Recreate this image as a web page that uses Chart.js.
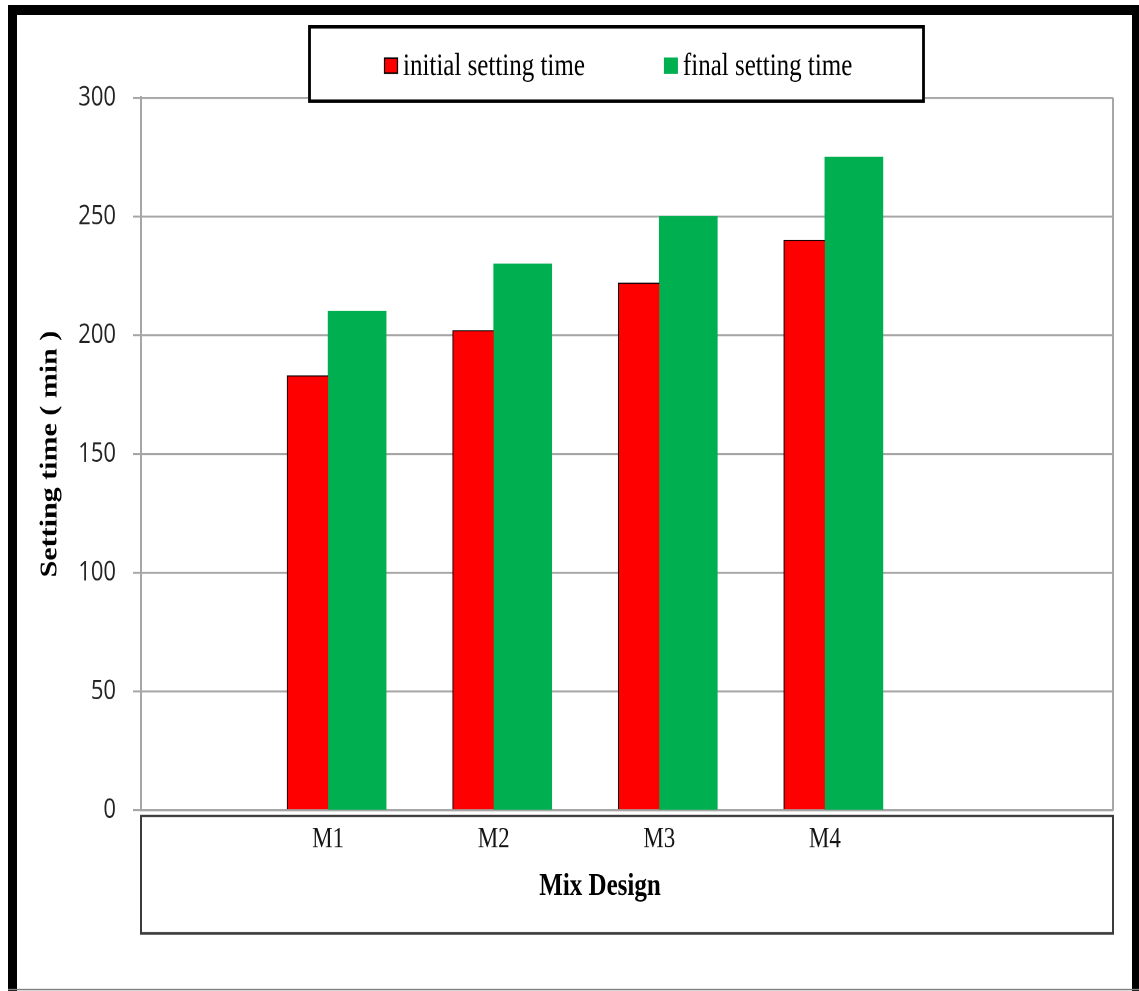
<!DOCTYPE html>
<html>
<head>
<meta charset="utf-8">
<title>Setting time by mix design</title>
<script src="https://cdn.jsdelivr.net/npm/chart.js@4.4.1/dist/chart.umd.min.js"></script>
<style>
  html, body { margin: 0; padding: 0; background: #ffffff; }
  /* the chart is laid out on a shorter canvas and shown stretched vertically */
  #chart { display: block; width: 1139px !important; height: 991px !important; }
</style>
</head>
<body>
<canvas id="chart" width="1139" height="793"></canvas>
<script>
// Mix designs on the horizontal axis
const categories = ['M1', 'M2', 'M3', 'M4'];
// Setting times in minutes
const initialSettingTime = [183, 202, 222, 240];
const finalSettingTime = [210, 230, 250, 275];
// Series names shown in the legend
const seriesNames = ['initial setting time', 'final setting time'];
// Value-axis tick labels
const yTickValues = [0, 50, 100, 150, 200, 250, 300];
// Axis titles
const xAxisTitle = 'Mix Design';
const yAxisTitle = 'Setting time ( min )';

const toPoints = values => values.map((v, i) => ({ x: i + 1, y: v }));

// Outer frame, plot border, box under the category axis and the framed legend
const decorations = {
  id: 'decorations',
  beforeDraw(chart) {
    const ctx = chart.ctx;
    ctx.save();
    ctx.fillStyle = '#ffffff';
    ctx.fillRect(0, 0, chart.width, chart.height);
    ctx.restore();
  },
  afterDraw(chart) {
    const ctx = chart.ctx;
    const area = chart.chartArea;
    ctx.save();

    // right edge of the plot area
    ctx.strokeStyle = '#a6a6a6';
    ctx.lineWidth = 2;
    ctx.beginPath();
    ctx.moveTo(area.right, area.top);
    ctx.lineTo(area.right, area.bottom);
    ctx.stroke();

    // box holding the category labels and axis title
    ctx.strokeStyle = '#3c3c3c';
    ctx.lineWidth = 2;
    ctx.strokeRect(area.left, area.bottom + 4.5, area.right - area.left, 94);

    // category axis title, sitting a little left of the box centre
    ctx.fillStyle = '#000000';
    ctx.font = 'bold 25px "Liberation Serif", "Times New Roman", serif';
    ctx.textAlign = 'center';
    ctx.textBaseline = 'alphabetic';
    ctx.fillText(xAxisTitle, 600, 716);

    // legend box
    ctx.fillStyle = '#ffffff';
    ctx.fillRect(308, 20, 617, 62);
    ctx.strokeStyle = '#000000';
    ctx.lineWidth = 2.8;
    ctx.strokeRect(309.5, 21.4, 614, 59.6);
    ctx.font = '25px "Liberation Serif", "Times New Roman", serif';
    ctx.textBaseline = 'alphabetic';
    ctx.textAlign = 'left';
    let x = 384;
    chart.data.datasets.forEach(ds => {
      ctx.fillStyle = ds.backgroundColor;
      ctx.fillRect(x, 46, 14, 13);
      if (ds.legendOutline) {
        ctx.strokeStyle = '#000000';
        ctx.lineWidth = 1.2;
        ctx.strokeRect(x + 0.5, 46.5, 13, 12);
      }
      ctx.fillStyle = '#000000';
      ctx.fillText(ds.label, x + 19, 60);
      x += 19 + ctx.measureText(ds.label).width + 79;
    });

    // outer frame
    ctx.fillStyle = '#000000';
    ctx.fillRect(8, 4, 9, chart.height - 4);
    ctx.fillRect(8, 4, chart.width - 8, 8);
    ctx.fillRect(1132, 4, 7, chart.height - 4);
    ctx.fillStyle = '#808080';
    ctx.fillRect(8, 791.3, chart.width - 8, 1.2);

    ctx.restore();
  }
};

new Chart(document.getElementById('chart'), {
  type: 'bar',
  data: {
    datasets: [
      {
        label: seriesNames[0],
        data: toPoints(initialSettingTime),
        backgroundColor: '#ff0000',
        borderColor: '#000000',
        borderWidth: { top: 1, left: 1, right: 0, bottom: 0 },
        barThickness: 41,
        legendOutline: true
      },
      {
        label: seriesNames[1],
        data: toPoints(finalSettingTime),
        backgroundColor: '#00b050',
        borderWidth: 0,
        barThickness: 58,
        legendOutline: false
      }
    ]
  },
  options: {
    responsive: false,
    animation: false,
    devicePixelRatio: 2,
    layout: { padding: { left: 0, right: 26, top: 78.2, bottom: 0 } },
    plugins: {
      legend: { display: false },
      tooltip: { enabled: false }
    },
    scales: {
      x: {
        type: 'linear',
        offset: false,
        min: -0.13,
        max: 5.74,
        afterFit: scale => { scale.height = 144.6; },
        afterBuildTicks: scale => {
          scale.ticks = categories.map((c, i) => ({ value: i + 1 }));
        },
        grid: { display: false, drawTicks: false },
        border: { display: true, color: '#a6a6a6', width: 1.6 },
        ticks: {
          autoSkip: false,
          maxRotation: 0,
          padding: 10,
          color: '#141414',
          font: { family: '"Liberation Serif", "Times New Roman", serif', size: 23 },
          callback: value => categories[value - 1] ?? ''
        },
        title: { display: false }
      },
      y: {
        min: yTickValues[0],
        max: yTickValues[yTickValues.length - 1],
        afterFit: scale => { scale.width = 141; },
        afterBuildTicks: scale => {
          scale.ticks = yTickValues.map(v => ({ value: v }));
        },
        grid: { color: '#a6a6a6', lineWidth: 1.6, tickLength: 8, drawTicks: true },
        border: { display: true, color: '#a6a6a6', width: 2 },
        ticks: {
          padding: 17,
          color: '#222222',
          font: { family: '"Open Sans", "Noto Sans", sans-serif', size: 22 }
        },
        title: {
          display: true,
          text: yAxisTitle,
          color: '#000000',
          font: { family: '"Liberation Serif", "Times New Roman", serif', size: 24, weight: 'bold' },
          padding: { top: 36, bottom: 0 }
        }
      }
    }
  },
  plugins: [decorations]
});
</script>
</body>
</html>
